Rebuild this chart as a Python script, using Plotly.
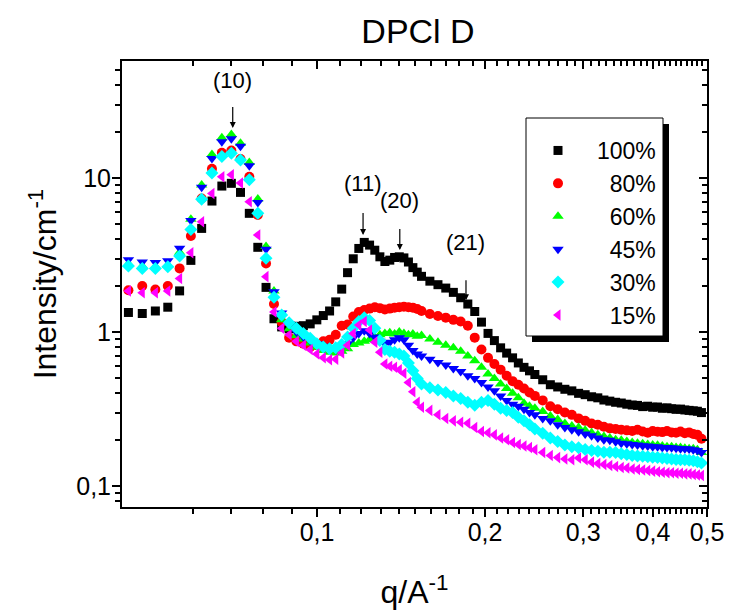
import math
import plotly.graph_objects as go

# ---------------- data ----------------
q = [0.0459, 0.0486, 0.0513, 0.0540, 0.0567, 0.0594, 0.0621, 0.0648, 0.0675, 0.0702,
     0.0729, 0.0756, 0.0783, 0.0810, 0.0837, 0.0864, 0.0891, 0.0918, 0.0945, 0.0972,
     0.0999, 0.1026, 0.1053, 0.1080, 0.1107, 0.1134, 0.1161, 0.1188, 0.1215, 0.1242,
     0.1269, 0.1296, 0.1323, 0.1350, 0.1377, 0.1404, 0.1431, 0.1458, 0.1485, 0.1512,
     0.1539,
     0.1593, 0.1647, 0.1701, 0.1755, 0.1809, 0.1863, 0.1917, 0.1971, 0.2025, 0.2079,
     0.2133, 0.2187, 0.2241, 0.2295, 0.2349, 0.2403, 0.2457,
     0.2538, 0.2619, 0.2700, 0.2781, 0.2862, 0.2943, 0.3024, 0.3105, 0.3186, 0.3267,
     0.3348, 0.3429, 0.3510, 0.3591, 0.3672, 0.3753, 0.3834, 0.3915, 0.3996, 0.4077,
     0.4158, 0.4239, 0.4320, 0.4401, 0.4482, 0.4563, 0.4644, 0.4725, 0.4806, 0.4887]

i100 = [1.34, 1.32, 1.37, 1.45, 1.85, 2.92, 4.71, 7.09, 8.87, 9.24, 8.07, 5.90, 3.55, 1.95,
        1.22, 1.08, 1.05, 1.09, 1.10, 1.13, 1.20, 1.28, 1.37, 1.57, 1.90, 2.43, 2.99, 3.49,
        3.82, 3.67, 3.40, 3.08, 2.87, 2.93, 3.05, 3.08, 3.03, 2.85, 2.62, 2.45, 2.30,
        2.14, 2.03, 1.93, 1.81, 1.67, 1.52, 1.36, 1.16, 0.98, 0.88, 0.79, 0.73, 0.68, 0.63,
        0.59, 0.56, 0.53,
        0.49, 0.455, 0.44, 0.425, 0.415, 0.40, 0.392, 0.38, 0.374, 0.362, 0.356, 0.35, 0.346,
        0.34, 0.336, 0.334, 0.328, 0.33, 0.325, 0.326, 0.32, 0.322, 0.318, 0.315, 0.316,
        0.312, 0.31, 0.308, 0.306, 0.30]

i80 = [1.87, 1.99, 1.89, 1.99, 2.59, 4.20, 7.37, 11.5, 14.6, 15.1, 13.3, 10.2, 5.75, 2.79,
       1.52, 1.16, 0.92, 0.87, 0.84, 0.80, 0.82, 0.87, 0.89, 0.96, 1.10, 1.12, 1.26, 1.35,
       1.39, 1.42, 1.45, 1.43, 1.40, 1.42, 1.44, 1.45, 1.46, 1.45, 1.44, 1.41, 1.37,
       1.31, 1.27, 1.24, 1.20, 1.17, 1.10, 0.92, 0.77, 0.68, 0.62, 0.57, 0.52, 0.48, 0.455,
       0.43, 0.405, 0.385,
       0.36, 0.33, 0.315, 0.30, 0.29, 0.275, 0.265, 0.255, 0.25, 0.243, 0.237, 0.235, 0.232,
       0.23, 0.228, 0.232, 0.226, 0.222, 0.228, 0.225, 0.224, 0.228, 0.223, 0.222, 0.226,
       0.22, 0.223, 0.218, 0.215, 0.203]

i60 = [2.78, 2.68, 2.66, 2.72, 3.30, 5.40, 9.00, 14.2, 18.3, 19.2, 16.8, 12.6, 7.30, 3.60,
       1.85, 1.20, 1.05, 0.95, 0.90, 0.85, 0.80, 0.76, 0.74, 0.73, 0.75, 0.78, 0.83, 0.85,
       0.87, 0.89, 0.93, 0.96, 0.98, 0.99, 0.97, 1.00, 0.98, 0.96, 0.97, 0.94, 0.95,
       0.90, 0.86, 0.82, 0.79, 0.75, 0.70, 0.65, 0.59, 0.535, 0.50, 0.46, 0.43, 0.40, 0.375,
       0.345, 0.33, 0.32,
       0.305, 0.285, 0.27, 0.255, 0.245, 0.24, 0.23, 0.222, 0.215, 0.21, 0.205, 0.20, 0.198,
       0.195, 0.192, 0.19, 0.188, 0.186, 0.185, 0.184, 0.182, 0.18, 0.18, 0.178, 0.178,
       0.176, 0.175, 0.175, 0.172, 0.165]

i45 = [2.95, 2.85, 2.83, 2.90, 3.50, 5.30, 8.70, 13.4, 17.2, 18.0, 16.1, 12.0, 6.95, 3.45,
       1.83, 1.33, 1.13, 1.00, 0.93, 0.88, 0.84, 0.81, 0.79, 0.78, 0.80, 0.84, 0.92, 0.98,
       1.02, 0.98, 0.93, 0.87, 0.84, 0.86, 0.89, 0.92, 0.89, 0.82, 0.76, 0.72, 0.70,
       0.665, 0.635, 0.61, 0.58, 0.555, 0.52, 0.50, 0.47, 0.44, 0.415, 0.385, 0.36, 0.34,
       0.33, 0.315, 0.30, 0.29,
       0.275, 0.265, 0.25, 0.24, 0.232, 0.225, 0.218, 0.212, 0.205, 0.20, 0.198, 0.194,
       0.19, 0.188, 0.186, 0.185, 0.183, 0.182, 0.18, 0.18, 0.178, 0.178, 0.177, 0.176,
       0.175, 0.175, 0.174, 0.172, 0.17, 0.165]

i30 = [2.68, 2.59, 2.59, 2.65, 3.12, 4.64, 7.27, 10.8, 13.8, 14.5, 13.1, 9.75, 5.90, 3.01,
       1.68, 1.29, 1.15, 1.06, 0.98, 0.91, 0.84, 0.80, 0.78, 0.79, 0.83, 0.93, 1.06, 1.17,
       1.24, 1.19, 1.06, 0.88, 0.77, 0.75, 0.74, 0.72, 0.70, 0.63, 0.56, 0.50, 0.46,
       0.435, 0.42, 0.405, 0.385, 0.37, 0.35, 0.335, 0.35, 0.36, 0.34, 0.32, 0.31, 0.30,
       0.28, 0.265, 0.25, 0.235,
       0.22, 0.205, 0.195, 0.185, 0.18, 0.177, 0.173, 0.17, 0.168, 0.166, 0.166, 0.165,
       0.162, 0.16, 0.158, 0.157, 0.156, 0.155, 0.154, 0.153, 0.152, 0.151, 0.15, 0.149,
       0.148, 0.148, 0.147, 0.146, 0.144, 0.141]

i15 = [1.85, 1.80, 1.80, 1.85, 2.23, 3.27, 5.20, 7.94, 10.2, 10.5, 9.30, 7.02, 4.27, 2.29,
       1.35, 1.06, 0.96, 0.87, 0.82, 0.77, 0.72, 0.68, 0.66, 0.665, 0.73, 0.82, 0.98, 1.11,
       1.17, 1.03, 0.86, 0.74, 0.62, 0.60, 0.59, 0.57, 0.54, 0.47, 0.41, 0.35, 0.325,
       0.31, 0.29, 0.275, 0.265, 0.26, 0.256, 0.24, 0.226, 0.222, 0.215, 0.205, 0.20, 0.192,
       0.186, 0.182, 0.178, 0.172,
       0.165, 0.158, 0.153, 0.15, 0.148, 0.152, 0.148, 0.143, 0.14, 0.138, 0.136, 0.134,
       0.132, 0.131, 0.129, 0.128, 0.127, 0.126, 0.125, 0.124, 0.123, 0.122, 0.122, 0.121,
       0.121, 0.12, 0.12, 0.119, 0.118, 0.117]

series_names = ["100%", "80%", "60%", "45%", "30%", "15%"]
series_values = [i100, i80, i60, i45, i30, i15]
series_colors = ["#000000", "#FF0000", "#00FF00", "#0000FF", "#00FFFF", "#FF00FF"]
series_symbols = ["square", "circle", "triangle-up", "triangle-down", "diamond", "triangle-left"]
series_sizes = [9, 10, 10, 10, 10, 10]

x_tickvals = [0.1, 0.2, 0.3, 0.4, 0.5]
x_ticktext = ["0,1", "0,2", "0,3", "0,4", "0,5"]
x_minor = [0.06, 0.07, 0.08, 0.09,
           0.11, 0.12, 0.13, 0.14, 0.15, 0.16, 0.17, 0.18, 0.19,
           0.21, 0.22, 0.23, 0.24, 0.25, 0.26, 0.27, 0.28, 0.29,
           0.31, 0.32, 0.33, 0.34, 0.35, 0.36, 0.37, 0.38, 0.39,
           0.41, 0.42, 0.43, 0.44, 0.45, 0.46, 0.47, 0.48, 0.49]
y_tickvals = [0.1, 1, 10]
y_ticktext = ["0,1", "1", "10"]
y_minor = [0.08, 0.09, 0.2, 0.3, 0.4, 0.5, 0.6, 0.7, 0.8, 0.9,
           2, 3, 4, 5, 6, 7, 8, 9, 20, 30, 40, 50]

peak_labels = ["(10)", "(11)", "(20)", "(21)"]
peak_q = [0.0706, 0.1209, 0.1407, 0.1849]
peak_I = [21.1, 4.26, 3.41, 1.61]

for s in series_values:
    assert len(s) == len(q), len(s)

# ---------------- figure ----------------
FONT = "Arial, 'Liberation Sans', sans-serif"
W, H = 731, 610
L, R, T, B = 122, 24, 61, 103
PW, PH = W - L - R, H - T - B

def px_x(px):
    return (px - L) / PW

def px_y(py):
    return (H - B - py) / PH

xrange_ = [math.log10(0.0447), math.log10(0.5)]
yrange_ = [-1.136, 1.76]

fig = go.Figure()
for name, vals, col, sym, sz in zip(series_names, series_values, series_colors,
                                     series_symbols, series_sizes):
    pad = "\u00a0\u00a0" * (4 - len(name))
    fig.add_trace(go.Scatter(
        x=q, y=vals, mode="markers", name=pad + name,
        marker=dict(symbol=sym, size=sz, color=col, line=dict(width=0)),
    ))

# helper trace for the mirrored top / right axes
fig.add_trace(go.Scatter(x=q[:1], y=i100[:1], xaxis="x2", yaxis="y2", mode="markers",
                         marker=dict(opacity=0), showlegend=False, hoverinfo="skip"))

axis_common = dict(showline=True, linewidth=2, linecolor="black", showgrid=False,
                   zeroline=False, tickcolor="black", tickwidth=2, ticklen=8,
                   automargin=False)

fig.update_layout(
    width=W, height=H,
    margin=dict(l=L, r=R, t=T, b=B),
    paper_bgcolor="white", plot_bgcolor="white",
    font=dict(family=FONT, color="black"),
    title=dict(text="DPCl D", font=dict(size=34, family=FONT, color="black"),
               x=px_x(418), xref="paper", xanchor="center",
               y=1 - 31 / H, yref="container", yanchor="middle"),
    xaxis=dict(type="log", range=xrange_, ticks="outside",
               tickmode="array", tickvals=x_tickvals, ticktext=x_ticktext,
               tickfont=dict(size=25, family=FONT), ticklabelstandoff=-6,
               minor=dict(tickmode="array", tickvals=x_minor, ticks="outside",
                          ticklen=5, tickwidth=2, tickcolor="black"),
               title=dict(text="q/A<sup>-1</sup>", font=dict(size=32, family=FONT),
                          standoff=38),
               **axis_common),
    yaxis=dict(type="log", range=yrange_, ticks="outside",
               tickmode="array", tickvals=y_tickvals, ticktext=y_ticktext,
               tickfont=dict(size=25, family=FONT), ticklabelstandoff=-4,
               minor=dict(tickmode="array", tickvals=y_minor, ticks="outside",
                          ticklen=5, tickwidth=2, tickcolor="black"),
               title=dict(text="Intensity/cm<sup>-1</sup>", font=dict(size=32, family=FONT),
                          standoff=10),
               **axis_common),
    xaxis2=dict(type="log", range=xrange_, overlaying="x", side="top", anchor="y2",
                ticks="inside", showticklabels=False,
                tickmode="array", tickvals=x_tickvals,
                minor=dict(tickmode="array", tickvals=x_minor, ticks="inside",
                           ticklen=5, tickwidth=2, tickcolor="black"),
                **axis_common),
    yaxis2=dict(type="log", range=yrange_, overlaying="y", side="right", anchor="x2",
                ticks="inside", showticklabels=False,
                tickmode="array", tickvals=y_tickvals,
                minor=dict(tickmode="array", tickvals=y_minor, ticks="inside",
                           ticklen=5, tickwidth=2, tickcolor="black"),
                **axis_common),
    legend=dict(x=px_x(519), y=px_y(129), xanchor="left", yanchor="top",
                bgcolor="rgba(0,0,0,0)", borderwidth=0,
                font=dict(size=23, family=FONT, color="black"),
                itemwidth=68, tracegroupgap=0),
    showlegend=True,
)

# legend frame with drop shadow
fig.add_shape(type="rect", xref="paper", yref="paper",
              x0=px_x(532), x1=px_x(669), y0=px_y(342), y1=px_y(124),
              fillcolor="black", line=dict(width=0), layer="above")
fig.add_shape(type="rect", xref="paper", yref="paper",
              x0=px_x(526), x1=px_x(663), y0=px_y(336), y1=px_y(118),
              fillcolor="white", line=dict(color="black", width=1), layer="above")

# peak labels with arrows
starts = [13, 16, 15, 24]
offs = [-48, -52, -50, -58]
for lab, pq, pI, st, off in zip(peak_labels, peak_q, peak_I, starts, offs):
    fig.add_annotation(x=math.log10(pq), y=math.log10(pI), xref="x", yref="y",
                       text=lab, showarrow=True, ax=0, ay=off,
                       arrowhead=2, arrowsize=1, arrowwidth=1.2, arrowcolor="black",
                       startstandoff=st, font=dict(size=22, family=FONT, color="black"))

fig.write_html("out.html", config={"displayModeBar": False},
               post_script="document.body.style.margin='0px';")
